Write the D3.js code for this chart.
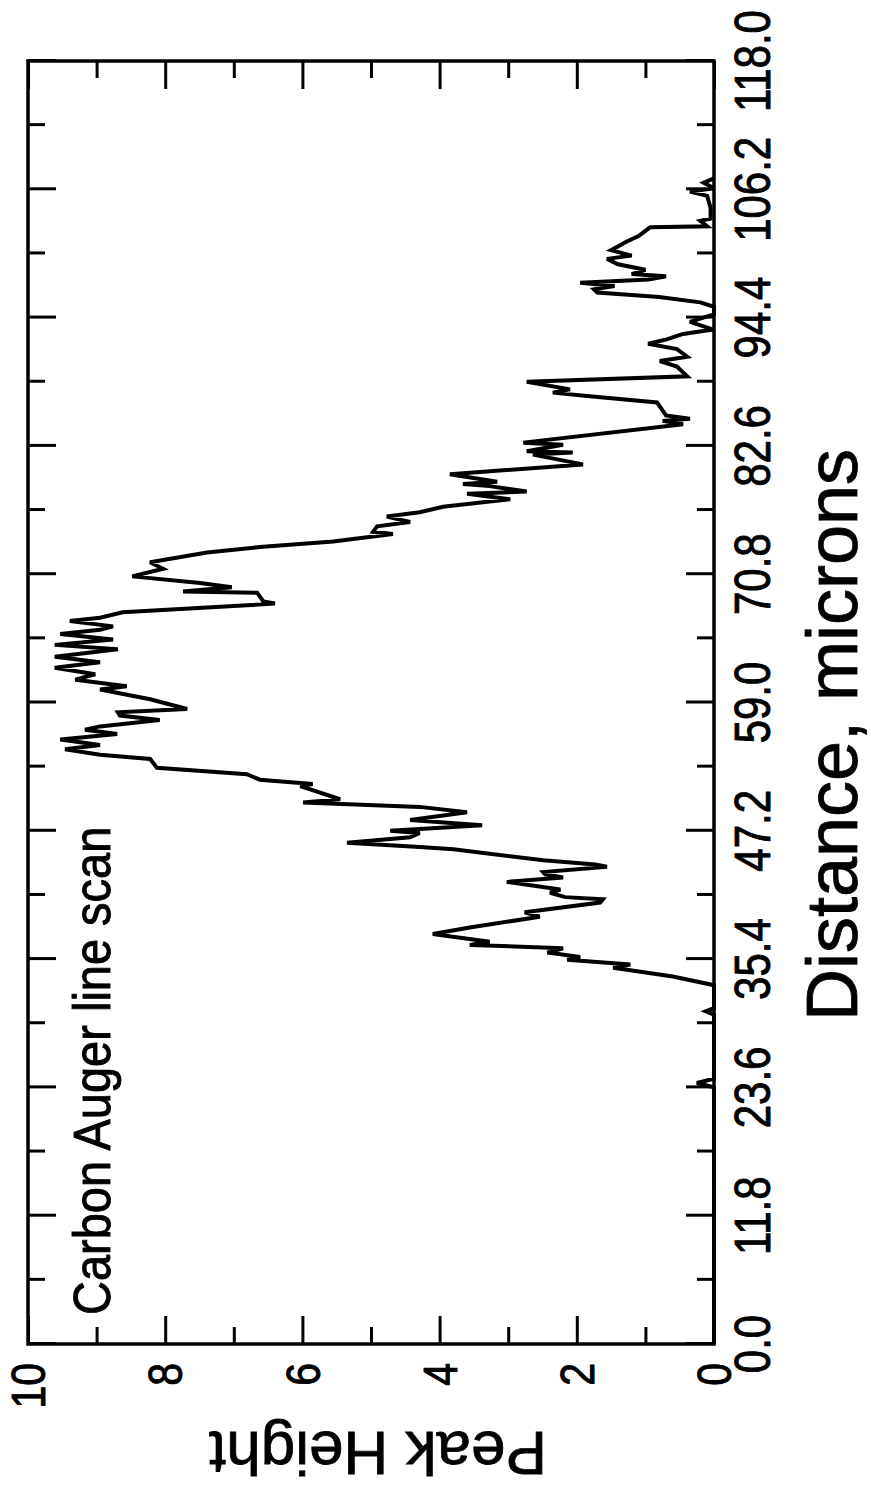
<!DOCTYPE html>
<html><head><meta charset="utf-8">
<script src="https://cdn.jsdelivr.net/npm/d3@7"></script>
<style>
body{margin:0;background:#fff}
svg{display:block}
text{font-family:"Liberation Sans",Arial,Helvetica,sans-serif;fill:#000;stroke:#000;stroke-width:0.8px}
</style>
</head><body>
<svg id="c" width="871" height="1490"></svg>
<script>
// ---- data ----
const distance = [0.0,23.6,24.0,24.4,30.3,30.6,30.9,33.0,33.8,34.6,34.9,35.35,35.6,36.0,36.4,36.7,37.0,37.7,38.3,39.3,39.7,40.6,40.9,41.1,41.5,41.8,42.5,42.9,43.2,43.4,43.9,44.1,44.5,45.5,45.7,46.1,46.6,47.0,47.2,47.7,48.2,48.9,49.4,49.8,50.1,51.3,51.5,51.9,52.4,53.0,53.8,54.2,54.7,55.1,55.6,56.1,56.5,56.8,57.4,57.8,58.1,58.4,59.3,60.2,60.5,61.1,61.6,62.2,62.7,63.2,63.9,64.3,64.8,65.3,65.7,66.0,66.5,66.8,67.3,68.1,68.3,69.1,69.2,69.6,70.0,70.6,71.3,71.9,72.8,73.3,73.8,74.5,74.7,75.2,75.6,76.1,76.5,77.0,77.7,78.2,78.4,78.9,79.1,79.3,80.0,80.9,81.8,82.0,82.1,82.7,82.9,84.6,84.9,85.1,85.4,86.6,87.2,87.5,87.8,88.5,89.0,89.9,90.4,90.8,91.5,92.0,92.4,92.9,93.3,94.0,94.7,95.4,95.8,96.3,96.7,97.0,97.3,97.6,97.9,98.2,98.4,98.8,99.3,99.8,100.1,100.6,101.4,101.9,102.7,102.8,103.3,103.5,104.5,105.6,106.0,106.3,106.8,107.2];
const peakHeight = [0,0,0.25,0,0,0.12,0,0,0.60,1.47,1.22,2.14,1.95,2.43,2.2,3.56,3.27,4.10,3.56,2.54,2.76,1.66,1.62,2.17,2.39,2.24,3.02,2.2,2.46,2.49,1.56,1.73,2.49,3.80,4.29,5.35,4.43,4.29,4.72,3.38,4.43,3.60,4.29,5.99,5.45,6.03,5.85,6.62,6.81,8.12,8.22,8.95,9.46,8.95,9.53,8.70,9.17,8.95,8.08,8.66,8.69,7.68,8.22,8.95,8.56,9.31,9.02,9.61,8.95,9.61,8.69,9.61,8.76,9.53,8.95,8.76,9.39,8.95,8.62,6.40,6.57,6.66,7.74,7.03,7.49,8.48,8.03,8.22,7.39,6.62,5.55,4.68,4.97,4.91,4.43,4.77,4.29,3.95,2.97,3.60,2.73,3.27,3.66,3.16,3.85,1.91,2.64,2.06,2.73,2.20,2.78,0.45,0.75,0.35,0.70,0.83,1.85,2.35,2.10,2.73,0.39,0.54,0.79,0.39,0.54,0.96,0.69,0.45,0.01,0.35,0,0,0.2,0.8,1.7,1.75,1.45,1.95,0.95,0.70,1.20,1.00,1.40,1.56,1.20,1.50,1.27,1.10,0.93,0.10,0.20,0.05,0.05,0.10,0.35,0,0.15,0];
const distanceTicks = [0,11.8,23.6,35.4,47.2,59.0,70.8,82.6,94.4,106.2,118.0];
const distanceLabels = ["0.0","11.8","23.6","35.4","47.2","59.0","70.8","82.6","94.4","106.2","118.0"];
const distanceMinor = [5.9,17.7,29.5,41.3,53.1,64.9,76.7,88.5,100.3,112.1];
const heightTicks = [0,2,4,6,8,10];
const heightLabels = ["0","2","4","6","8","10"];
const heightMinor = [1,3,5,7,9];
const xTitle = "Distance, microns";
const yTitle = "Peak Height";
const note = "Carbon Auger line scan";

// ---- layout (chart drawn upright, then rotated -90deg like the scan) ----
const W = 1283, H = 686;
const svg = d3.select("#c");
const g = svg.append("g").attr("transform","translate(28,1344) rotate(-90)");
const x = d3.scaleLinear().domain([0,118]).range([0,W]);
const y = d3.scaleLinear().domain([0,10]).range([H,0]);

function ticks(axis, vals, size, tr){
  const a = g.append("g").attr("transform", tr)
    .call(axis.tickValues(vals).tickSize(-size).tickSizeOuter(0).tickFormat(""));
  a.select(".domain").remove();
  a.selectAll(".tick line").attr("stroke","#000").attr("stroke-width",3);
}
ticks(d3.axisBottom(x), distanceTicks, 28, `translate(0,${H})`);
ticks(d3.axisBottom(x), distanceMinor, 17, `translate(0,${H})`);
ticks(d3.axisTop(x), distanceTicks, 28, `translate(0,0)`);
ticks(d3.axisTop(x), distanceMinor, 17, `translate(0,0)`);
ticks(d3.axisLeft(y), heightTicks, 28, `translate(0,0)`);
ticks(d3.axisLeft(y), heightMinor, 17, `translate(0,0)`);
ticks(d3.axisRight(y), heightTicks, 28, `translate(${W},0)`);
ticks(d3.axisRight(y), heightMinor, 17, `translate(${W},0)`);

g.append("rect").attr("x",0).attr("y",0).attr("width",W).attr("height",H)
  .attr("fill","none").attr("stroke","#000").attr("stroke-width",3.5);

// curve
const pts = distance.map((d,i)=>[d,peakHeight[i]]);
g.append("path").datum(pts)
  .attr("d", d3.line().x(p=>x(p[0])).y(p=>y(p[1])))
  .attr("fill","none").attr("stroke","#000").attr("stroke-width",4)
  .attr("stroke-linejoin","miter").attr("stroke-miterlimit",3);

// tick labels
g.selectAll("text.dl").data(distanceTicks).join("text").attr("class","dl")
  .attr("transform", d=>`translate(${x(d)},${H+56}) scale(1,1.17)`)
  .attr("text-anchor","middle").attr("font-size",42)
  .text((d,i)=>distanceLabels[i]);
g.selectAll("text.hl").data(heightTicks).join("text").attr("class","hl")
  .attr("transform", d=>`translate(-19,${y(d)}) scale(1,1.17)`)
  .attr("dy","0.36em").attr("text-anchor","end").attr("font-size",41)
  .text((d,i)=>heightLabels[i]);

// titles
g.append("text").attr("transform",`translate(609,${H+143})`)
  .attr("text-anchor","middle").attr("font-size",72).text(xTitle);
g.append("text").attr("transform",`translate(-88,350) rotate(-90)`)
  .attr("text-anchor","middle").attr("font-size",62).text(yTitle);
g.append("text").attr("transform",`translate(29,82) scale(1,1.12)`)
  .attr("text-anchor","start").attr("font-size",47).text(note);
</script>
</body></html>
